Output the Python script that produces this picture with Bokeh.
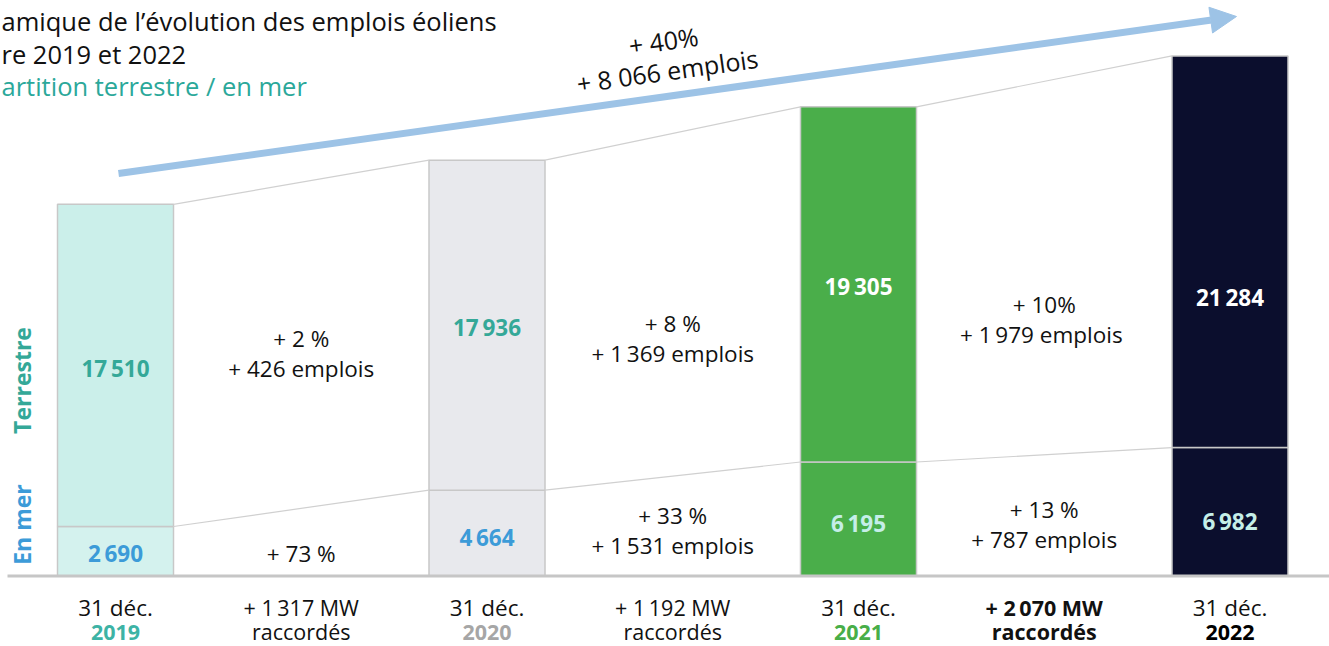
from bokeh.plotting import figure
from bokeh.models import Range1d, Arrow, NormalHead
from bokeh.core.properties import value
from bokeh.embed import file_html
from bokeh.resources import INLINE
import math

# ---------------- data ----------------
years = ["2019", "2020", "2021", "2022"]
terrestre = [17510, 17936, 19305, 21284]
en_mer = [2690, 4664, 6195, 6982]
terrestre_labels = ["17\u2009510", "17\u2009936", "19\u2009305", "21\u2009284"]
en_mer_labels = ["2\u2009690", "4\u2009664", "6\u2009195", "6\u2009982"]
gap_terrestre = [["+ 2 %", "+ 426 emplois"], ["+ 8 %", "+ 1\u2009369 emplois"], ["+ 10%", "+  1\u2009979 emplois"]]
gap_en_mer = [["+ 73 %"], ["+ 33 %", "+ 1\u2009531 emplois"], ["+ 13 %", "+ 787 emplois"]]
gap_mw = ["+ 1\u2009317 MW", "+ 1\u2009192 MW", "+ 2\u2009070 MW"]
total_growth = ["+ 40%", "+ 8 066 emplois"]
title_lines = ["amique de l\u2019évolution des emplois éoliens", "re 2019 et 2022", "artition terrestre / en mer"]

# ---------------- style ----------------
FONT = "Open Sans"
W, H = 1329, 646
UNIT = 185.75          # px per x unit
K = 54.35              # jobs per px
BW = 116 / UNIT

def fx(px):  # picture px -> data x
    return (px - 115) / UNIT

def fy(py):  # picture px -> data y
    return (575.5 - py) * K

fill_terr = ["#CBEFEA", "#E8E9ED", "#4AAE4A", "#0B0E2D"]
fill_mer = ["#D4F2EE", "#E8E9ED", "#4AAE4A", "#0B0E2D"]
col_terr_lab = ["#34A898", "#34A898", "#FFFFFF", "#FFFFFF"]
col_mer_lab = ["#3C9BD8", "#3C9BD8", "#C5EEE8", "#C5EEE8"]
col_year = ["#3DB3A5", "#A6A6A6", "#48AE48", "#000000"]
terr_label_py = [368, 327, 286, 297]
mer_label_py = [553, 537, 523, 521]

p = figure(width=W, height=H, output_backend="svg", toolbar_location=None,
           x_range=Range1d(fx(0), fx(W)), y_range=Range1d(fy(H), fy(0)),
           min_border=0, outline_line_color=None)
p.axis.visible = False
p.grid.visible = False
p.background_fill_color = "white"

xs = [2 * i for i in range(len(years))]
totals = [a + b for a, b in zip(terrestre, en_mer)]

# bars
p.vbar(x=xs, bottom=0, top=en_mer, width=BW, fill_color=fill_mer,
       line_color="#C8C8C8", line_width=1.5)
p.vbar(x=xs, bottom=en_mer, top=totals, width=BW, fill_color=fill_terr,
       line_color="#C8C8C8", line_width=1.5)

# connectors
p.segment(x0=[x + BW / 2 for x in xs[:-1]], y0=totals[:-1],
          x1=[x - BW / 2 for x in xs[1:]], y1=totals[1:],
          line_color="#D0D0D0", line_width=1.2)
p.segment(x0=[x + BW / 2 for x in xs[:-1]], y0=en_mer[:-1],
          x1=[x - BW / 2 for x in xs[1:]], y1=en_mer[1:],
          line_color="#D0D0D0", line_width=1.2)

# baseline
p.segment(x0=[fx(7)], y0=[0], x1=[fx(1329)], y1=[0], line_color="#C6C6C6", line_width=3)

# bar labels
p.text(x=xs, y=[fy(v) for v in terr_label_py], text=terrestre_labels, text_color=col_terr_lab,
       text_font=value(FONT), text_font_style="bold", text_font_size="22.5px",
       text_align="center", text_baseline="middle")
p.text(x=xs, y=[fy(v) for v in mer_label_py], text=en_mer_labels, text_color=col_mer_lab,
       text_font=value(FONT), text_font_style="bold", text_font_size="22.5px",
       text_align="center", text_baseline="middle")

# gap annotations
gap_x = [x + 1 for x in xs[:-1]]
terr_top_py = [338, 323, 304]
mer_top_py = [553, 515, 509]
gx, gy, gt = [], [], []
for i, lines in enumerate(gap_terrestre):
    for j, t in enumerate(lines):
        gx.append(gap_x[i]); gy.append(fy(terr_top_py[i] + 30 * j)); gt.append(t)
for i, lines in enumerate(gap_en_mer):
    for j, t in enumerate(lines):
        gx.append(gap_x[i]); gy.append(fy(mer_top_py[i] + 30 * j)); gt.append(t)
p.text(x=gx, y=gy, text=gt, text_color="#111111", text_font=value(FONT),
       text_font_size="22.5px", text_align="center", text_baseline="middle")

# bottom labels
p.text(x=xs, y=[fy(607)] * 4, text=["31 déc."] * 4, text_color="#111111", text_font=value(FONT),
       text_font_size="22.5px", text_align="center", text_baseline="middle")
p.text(x=xs, y=[fy(632)] * 4, text=years, text_color=col_year, text_font=value(FONT),
       text_font_style="bold", text_font_size="21.5px", text_align="center", text_baseline="middle")
mw_style = ["normal", "normal", "bold"]
for i, t in enumerate(gap_mw):
    p.text(x=[gap_x[i], gap_x[i]], y=[fy(607), fy(631)], text=[t, "raccordés"],
           text_color="#111111", text_font=value(FONT), text_font_style=mw_style[i],
           text_font_size="21.5px", text_align="center", text_baseline="middle")

# side labels
p.text(x=[fx(21)], y=[fy(380)], text=["Terrestre"], text_color="#34A898", angle=math.pi / 2,
       text_font=value(FONT), text_font_style="bold", text_font_size="23px",
       text_align="center", text_baseline="middle")
p.text(x=[fx(21)], y=[fy(524)], text=["En mer"], text_color="#3C9BD8", angle=math.pi / 2,
       text_font=value(FONT), text_font_style="bold", text_font_size="23px",
       text_align="center", text_baseline="middle")

# title
title_py = [20, 53, 85]
title_col = ["#111111", "#111111", "#2BA89A"]
p.text(x=[fx(1)] * 3, y=[fy(v) for v in title_py], text=title_lines, text_color=title_col,
       text_font=value(FONT), text_font_size="25.5px", text_align="left", text_baseline="middle")

# arrow
ARROW = "#9DC3E6"
p.add_layout(Arrow(x_start=fx(118), y_start=fy(173), x_end=fx(1236), y_end=fy(16),
                   line_width=7, line_color=ARROW,
                   end=NormalHead(size=26, fill_color=ARROW, line_color=ARROW)))
ang = math.atan2(173 - 16, 1236 - 118)
p.text(x=[fx(663), fx(667)], y=[fy(40), fy(70)], text=total_growth, text_color="#111111",
       angle=ang, text_font=value(FONT), text_font_size="25px",
       text_align="center", text_baseline="middle")

open("out.html", "w").write(file_html(p, INLINE))
